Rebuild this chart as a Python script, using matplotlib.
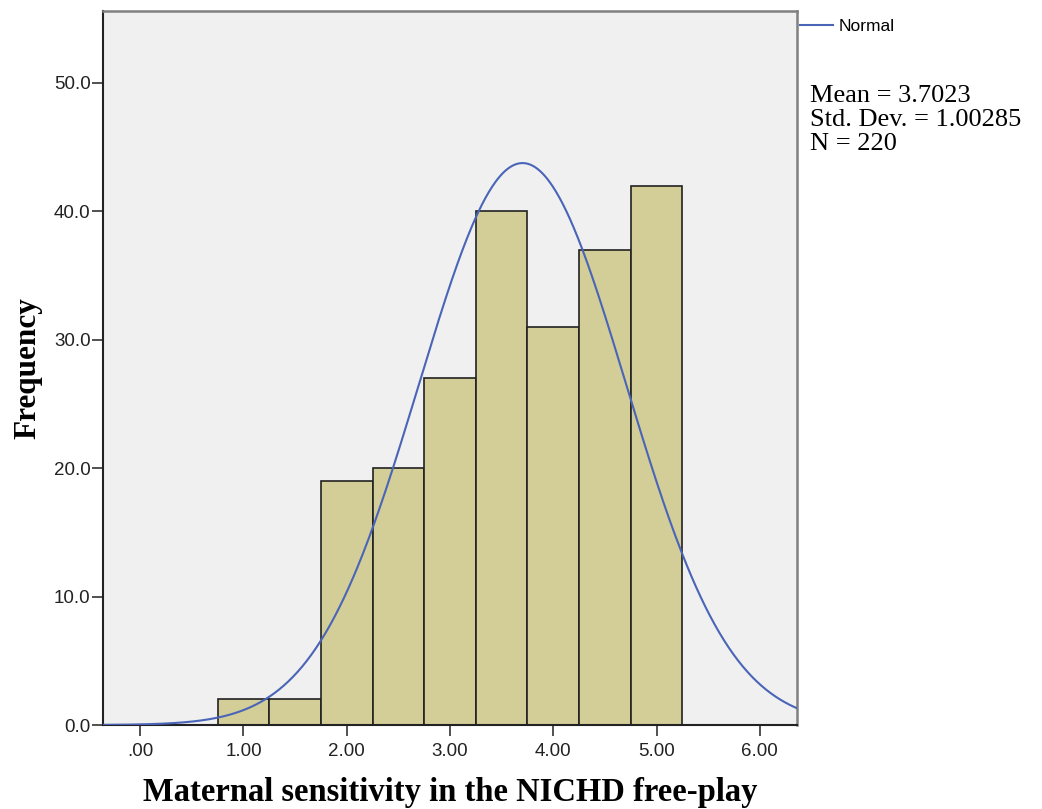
import numpy as np
import matplotlib
matplotlib.use("Agg")
import matplotlib.pyplot as plt

# Data
bin_edges = [0.75, 1.25, 1.75, 2.25, 2.75, 3.25, 3.75, 4.25, 4.75, 5.25]
counts = [2, 2, 19, 20, 27, 40, 31, 37, 42]
mean = 3.7023
std = 1.00285
n = 220
x_ticks = [0, 1, 2, 3, 4, 5, 6]
x_tick_labels = [".00", "1.00", "2.00", "3.00", "4.00", "5.00", "6.00"]
y_ticks = [0, 10, 20, 30, 40, 50]
y_tick_labels = ["0.0", "10.0", "20.0", "30.0", "40.0", "50.0"]

fig = plt.figure(figsize=(10.42, 8.09), dpi=100)
ax = fig.add_axes([103/1042, 1 - 725/809, (797-103)/1042, (725-11)/809])
ax.set_facecolor("#f0f0f0")

widths = np.diff(bin_edges)
ax.bar(bin_edges[:-1], counts, width=widths, align="edge", color="#d3ce97",
       edgecolor="#222222", linewidth=1.2, zorder=2)

xs = np.linspace(-0.36, 6.36, 600)
bw = widths[0]
ys = n * bw / (std * np.sqrt(2 * np.pi)) * np.exp(-0.5 * ((xs - mean) / std) ** 2)
line, = ax.plot(xs, ys, color="#4a65b8", linewidth=1.5, zorder=3)

ax.set_xlim(-0.36, 6.36)
ax.set_ylim(0, 55.6)
ax.set_xticks(x_ticks)
ax.set_xticklabels(x_tick_labels)
ax.set_yticks(y_ticks)
ax.set_yticklabels(y_tick_labels)

for lbl in ax.get_xticklabels() + ax.get_yticklabels():
    lbl.set_fontfamily("Liberation Sans")
    lbl.set_fontsize(13.5)
    lbl.set_color("#222222")
ax.tick_params(axis="x", direction="out", length=8, width=1.2, pad=5, color="#333333")
ax.tick_params(axis="y", direction="out", length=8, width=1.2, pad=1, color="#333333")

for side in ["left", "bottom"]:
    ax.spines[side].set_color("#222222")
    ax.spines[side].set_linewidth(1.5)
for side in ["top", "right"]:
    ax.spines[side].set_color("#808080")
    ax.spines[side].set_linewidth(1.8)

ax.set_xlabel("Maternal sensitivity in the NICHD free-play", family="Liberation Serif",
              fontweight="bold", fontsize=23.5, labelpad=12)
ax.set_ylabel("Frequency", family="Liberation Serif", fontweight="bold", fontsize=22.5,
              labelpad=8)

# Legend-like entry at top right
fig.legend([line], ["Normal"], loc="center left", bbox_to_anchor=(800/1042, 1 - 26/809),
           frameon=False, prop=dict(family="Liberation Sans", size=12.5),
           handlelength=1.9, handletextpad=0.3, borderaxespad=0, borderpad=0)

fig.text(810/1042, 1 - 85/809,
         "Mean = %.4f\nStd. Dev. = %.5f\nN = %d" % (mean, std, n),
         family="Liberation Serif", fontsize=19, va="top", ha="left", linespacing=1.12)

fig.savefig("out.png", dpi=100, facecolor="white")
